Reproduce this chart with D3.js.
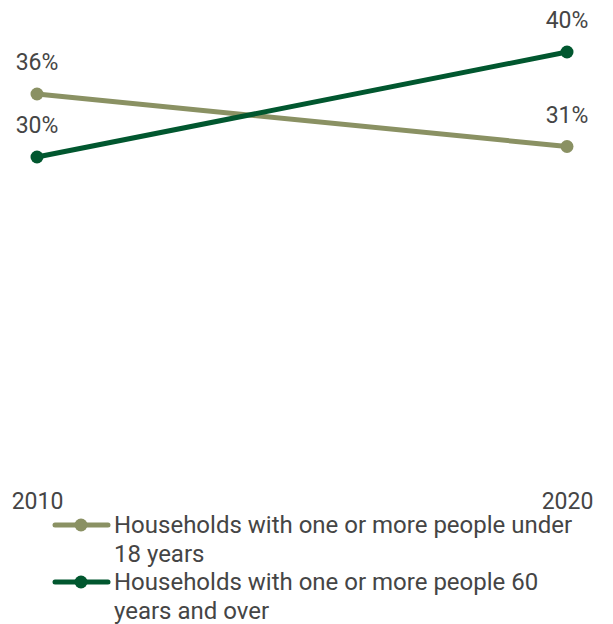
<!DOCTYPE html>
<html>
<head>
<meta charset="utf-8">
<script src="https://cdn.jsdelivr.net/npm/d3@7"></script>
<style>
  html, body { margin: 0; padding: 0; background: #fff; }
  svg { display: block; font-family: Roboto, "Noto Sans", sans-serif; }
</style>
</head>
<body>
<svg id="chart" width="613" height="624"></svg>
<script>
// Share of households by presence of children / older people
const years = ["2010", "2020"];
const under18 = [36, 31];
const over60 = [30, 40];
const seriesNames = [
  ["Households with one or more people under", "18 years"],
  ["Households with one or more people 60", "years and over"]
];
const seriesColors = ["#8a9163", "#01572f"];

const svg = d3.select("#chart");
const textColor = "#454545";
const fontSize = 23;
const legendFontSize = 24;

const x = d3.scalePoint().domain(years).range([37, 567]);
const y = d3.scaleLinear().domain([0, 40]).range([472, 52]);

const series = [
  { name: seriesNames[0], values: under18, color: seriesColors[0] },
  { name: seriesNames[1], values: over60, color: seriesColors[1] }
];

const line = d3.line()
  .x((d, i) => x(years[i]))
  .y(d => y(d));

// x axis labels (no axis line)
const xAxis = d3.axisBottom(x).tickSize(0).tickPadding(0);
const gx = svg.append("g").attr("transform", "translate(0,509)").call(xAxis);
gx.select(".domain").remove();
gx.selectAll("text")
  .attr("dy", 0)
  .attr("y", 0)
  .attr("font-size", fontSize)
  .attr("font-family", "Roboto, sans-serif")
  .attr("fill", textColor);

// Lines, points and value labels
series.forEach(s => {
  svg.append("path")
    .datum(s.values)
    .attr("d", line)
    .attr("fill", "none")
    .attr("stroke", s.color)
    .attr("stroke-width", 5);

  svg.selectAll(null)
    .data(s.values)
    .enter().append("circle")
    .attr("cx", (d, i) => x(years[i]))
    .attr("cy", d => y(d))
    .attr("r", 6.5)
    .attr("fill", s.color);

  svg.selectAll(null)
    .data(s.values)
    .enter().append("text")
    .attr("x", (d, i) => x(years[i]))
    .attr("y", d => y(d) - 24)
    .attr("text-anchor", "middle")
    .attr("font-size", fontSize)
    .attr("fill", textColor)
    .text(d => d + "%");
});

// Legend
const legend = svg.append("g");
series.forEach((s, i) => {
  const ly = 525 + i * 57;
  const g = legend.append("g").attr("transform", `translate(0,${ly})`);
  g.append("line")
    .attr("x1", 55).attr("x2", 108)
    .attr("y1", 0).attr("y2", 0)
    .attr("stroke", s.color)
    .attr("stroke-width", 5)
    .attr("stroke-linecap", "round");
  g.append("circle")
    .attr("cx", 81).attr("cy", 0).attr("r", 6.5)
    .attr("fill", s.color);
  const t = g.append("text")
    .attr("x", 114)
    .attr("y", 8)
    .attr("font-size", legendFontSize)
    .attr("fill", textColor);
  s.name.forEach((ln, j) => {
    t.append("tspan")
      .attr("x", 114)
      .attr("dy", j === 0 ? 0 : 29)
      .text(ln);
  });
});
</script>
</body>
</html>
